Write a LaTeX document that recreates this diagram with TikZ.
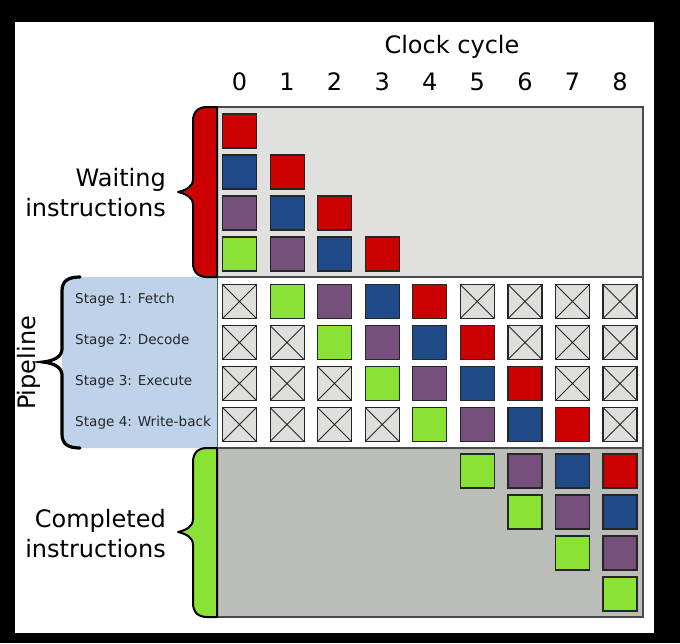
\documentclass[tikz,border=0pt]{standalone}
\usepackage{fontspec}
\setmainfont{DejaVu Sans}
\usepackage{xcolor}

\definecolor{tred}{HTML}{CC0000}
\definecolor{tblue}{HTML}{204A87}
\definecolor{tpurple}{HTML}{75507B}
\definecolor{tgreen}{HTML}{8AE234}
\definecolor{waitgray}{HTML}{E0E1DE}
\definecolor{donegray}{HTML}{BBBDB8}
\definecolor{idlegray}{HTML}{DEDEDC}
\definecolor{stageblue}{HTML}{BED3EA}
\definecolor{edgegray}{HTML}{4A4A4A}

\tikzset{
  instr/.style={draw=black!85, line width=1.2pt, minimum size=34pt, inner sep=0pt},
  idle/.style={instr, fill=idlegray,
    path picture={\draw[line width=0.9pt]
      (path picture bounding box.north west) -- (path picture bounding box.south east)
      (path picture bounding box.north east) -- (path picture bounding box.south west);}},
  bigtext/.style={font=\fontsize{24}{30}\selectfont, inner sep=0pt},
  stagetext/.style={font=\fontsize{13.6}{16}\selectfont, text=black!85, inner sep=0pt, anchor=west},
  panel/.style={draw=edgegray, line width=1.4pt}
}

\begin{document}
\begin{tikzpicture}[x=1pt, y=-1pt]

    % frame
    \fill[black] (0, 0) rectangle (680, 643);
    \fill[white] (15, 22) rectangle (654, 633);
    \useasboundingbox (0, 0) rectangle (680, 643);

    % panels
    \draw[panel, fill=waitgray] (217, 107) rectangle (643, 277);
    \draw[panel, fill=white] (217, 277) rectangle (643, 448);
    \draw[panel, fill=donegray] (217, 448) rectangle (643, 617);

    % stage box
    \fill[stageblue] (217, 277) -- (80, 277) .. controls (68, 277) and (62, 281) .. (62, 291)
        -- (62, 434) .. controls (62, 444) and (68, 448) .. (80, 448) -- (217, 448) -- cycle;

    % braces
    \draw[line width=2pt, fill=tred, line join=round] (217, 107) -- (207, 107)
        .. controls (198, 107) and (193, 112) .. (193, 121) -- (193, 179)
        .. controls (193, 187) and (186, 190) .. (178, 192)
        .. controls (186, 194) and (193, 197) .. (193, 205) -- (193, 263)
        .. controls (193, 272) and (198, 277) .. (207, 277) -- (217, 277) -- cycle;

    \draw[line width=2pt, fill=tgreen, line join=round] (217, 448) -- (207, 448)
        .. controls (198, 448) and (193, 453) .. (193, 462) -- (193, 519)
        .. controls (193, 527) and (186, 530) .. (178, 532)
        .. controls (186, 534) and (193, 537) .. (193, 545) -- (193, 603)
        .. controls (193, 612) and (198, 617) .. (207, 617) -- (217, 617) -- cycle;

    \draw[line width=3.2pt, line cap=round] (80, 277)
        .. controls (68, 277) and (62, 281) .. (62, 291) -- (62, 349)
        .. controls (62, 357) and (53, 361) .. (43, 362)
        .. controls (53, 363) and (62, 367) .. (62, 375) -- (62, 434)
        .. controls (62, 444) and (68, 448) .. (80, 448);

    % labels
    \node[bigtext] (clock) at (452, 47) {Clock cycle};
    \node[bigtext] (d0) at (239.5, 82) {0};
    \node[bigtext] (d1) at (287.1, 82) {1};
    \node[bigtext] (d2) at (334.6, 82) {2};
    \node[bigtext] (d3) at (382.2, 82) {3};
    \node[bigtext] (d4) at (429.7, 82) {4};
    \node[bigtext] (d5) at (477.3, 82) {5};
    \node[bigtext] (d6) at (524.9, 82) {6};
    \node[bigtext] (d7) at (572.4, 82) {7};
    \node[bigtext] (d8) at (620, 82) {8};

    \node[bigtext, align=right, anchor=east] (waiting) at (166, 193) {Waiting\\instructions};
    \node[bigtext, align=right, anchor=east] (completed) at (166, 534) {Completed\\instructions};
    \node[bigtext, rotate=90] (pipeline) at (29, 363) {Pipeline};

    \node[stagetext] (s1) at (75, 300) {Stage 1: Fetch};
    \node[stagetext] (s2) at (75, 341) {Stage 2: Decode};
    \node[stagetext] (s3) at (75, 382) {Stage 3: Execute};
    \node[stagetext] (s4) at (75, 423) {Stage 4: Write-back};

    % waiting instructions
    \node[instr, fill=tred] (w01) at (239.5, 131) {};
    \node[instr, fill=tblue] (w02) at (239.5, 172) {};
    \node[instr, fill=tpurple] (w03) at (239.5, 213) {};
    \node[instr, fill=tgreen] (w04) at (239.5, 254) {};
    \node[instr, fill=tred] (w12) at (287.1, 172) {};
    \node[instr, fill=tblue] (w13) at (287.1, 213) {};
    \node[instr, fill=tpurple] (w14) at (287.1, 254) {};
    \node[instr, fill=tred] (w23) at (334.6, 213) {};
    \node[instr, fill=tblue] (w24) at (334.6, 254) {};
    \node[instr, fill=tred] (w34) at (382.2, 254) {};

    % stage 1
    \node[idle] (p01) at (239.5, 301.5) {};
    \node[instr, fill=tgreen] (p11) at (287.1, 301.5) {};
    \node[instr, fill=tpurple] (p21) at (334.6, 301.5) {};
    \node[instr, fill=tblue] (p31) at (382.2, 301.5) {};
    \node[instr, fill=tred] (p41) at (429.7, 301.5) {};
    \node[idle] (p51) at (477.3, 301.5) {};
    \node[idle] (p61) at (524.9, 301.5) {};
    \node[idle] (p71) at (572.4, 301.5) {};
    \node[idle] (p81) at (620, 301.5) {};

    % stage 2
    \node[idle] (p02) at (239.5, 342.5) {};
    \node[idle] (p12) at (287.1, 342.5) {};
    \node[instr, fill=tgreen] (p22) at (334.6, 342.5) {};
    \node[instr, fill=tpurple] (p32) at (382.2, 342.5) {};
    \node[instr, fill=tblue] (p42) at (429.7, 342.5) {};
    \node[instr, fill=tred] (p52) at (477.3, 342.5) {};
    \node[idle] (p62) at (524.9, 342.5) {};
    \node[idle] (p72) at (572.4, 342.5) {};
    \node[idle] (p82) at (620, 342.5) {};

    % stage 3
    \node[idle] (p03) at (239.5, 383.5) {};
    \node[idle] (p13) at (287.1, 383.5) {};
    \node[idle] (p23) at (334.6, 383.5) {};
    \node[instr, fill=tgreen] (p33) at (382.2, 383.5) {};
    \node[instr, fill=tpurple] (p43) at (429.7, 383.5) {};
    \node[instr, fill=tblue] (p53) at (477.3, 383.5) {};
    \node[instr, fill=tred] (p63) at (524.9, 383.5) {};
    \node[idle] (p73) at (572.4, 383.5) {};
    \node[idle] (p83) at (620, 383.5) {};

    % stage 4
    \node[idle] (p04) at (239.5, 424.5) {};
    \node[idle] (p14) at (287.1, 424.5) {};
    \node[idle] (p24) at (334.6, 424.5) {};
    \node[idle] (p34) at (382.2, 424.5) {};
    \node[instr, fill=tgreen] (p44) at (429.7, 424.5) {};
    \node[instr, fill=tpurple] (p54) at (477.3, 424.5) {};
    \node[instr, fill=tblue] (p64) at (524.9, 424.5) {};
    \node[instr, fill=tred] (p74) at (572.4, 424.5) {};
    \node[idle] (p84) at (620, 424.5) {};

    % completed instructions
    \node[instr, fill=tgreen] (c51) at (477.3, 471) {};
    \node[instr, fill=tpurple] (c61) at (524.9, 471) {};
    \node[instr, fill=tblue] (c71) at (572.4, 471) {};
    \node[instr, fill=tred] (c81) at (620, 471) {};
    \node[instr, fill=tgreen] (c62) at (524.9, 512) {};
    \node[instr, fill=tpurple] (c72) at (572.4, 512) {};
    \node[instr, fill=tblue] (c82) at (620, 512) {};
    \node[instr, fill=tgreen] (c73) at (572.4, 553) {};
    \node[instr, fill=tpurple] (c83) at (620, 553) {};
    \node[instr, fill=tgreen] (c84) at (620, 594) {};

\end{tikzpicture}
\end{document}
